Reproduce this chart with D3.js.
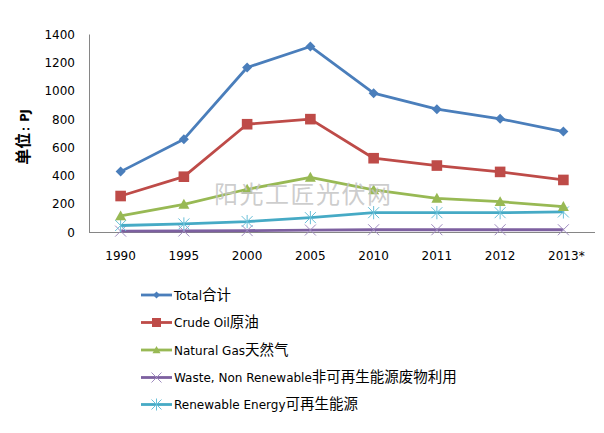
<!DOCTYPE html>
<html><head><meta charset="utf-8">
<script src="https://cdn.jsdelivr.net/npm/d3@7"></script>
<style>body{margin:0;background:#fff}svg{display:block}</style>
</head><body>
<script>
const years = ["1990","1995","2000","2005","2010","2011","2012","2013*"];
const total = [428, 658, 1166, 1315, 984, 871, 802, 712];
const crudeOil = [255, 392, 764, 800, 523, 471, 426, 369];
const naturalGas = [114, 196, 303, 388, 298, 239, 215, 180];
const waste = [6, 7, 10, 14, 16, 16, 16, 16];
const renewable = [46, 57, 74, 102, 137, 137, 137, 142];
const yTicks = [0, 200, 400, 600, 800, 1000, 1200, 1400];
const seriesNames = [["Total","合计"],["Crude Oil","原油"],["Natural Gas","天然气"],["Waste, Non Renewable","非可再生能源废物利用"],["Renewable Energy","可再生能源"]];
const seriesValues = [total, crudeOil, naturalGas, waste, renewable];
const colors = ["#4A7EBB","#BE4B48","#98B954","#7D60A0","#46AAC5"];
const markerColors = ["#4A7EBB","#BE4B48","#98B954","#A08CC0","#69BFD8"];
const shapes = ["diamond","square","triangle","x","star"];

const W=604,H=433;
const svg=d3.select("body").append("svg").attr("width",W).attr("height",H);
const x=d3.scalePoint().domain(years).range([89,595]).padding(0.5);
const y=d3.scaleLinear().domain([0,1400]).range([232,34.5]);
const font="'DejaVu Sans', Verdana, sans-serif";
const cjk="'Noto Sans CJK SC', sans-serif";

// axes
svg.append("line").attr("x1",89.5).attr("x2",89.5).attr("y1",y(1400)).attr("y2",y(0)).attr("stroke","#868686");
svg.append("line").attr("x1",89).attr("x2",595).attr("y1",y(0)+0.5).attr("y2",y(0)+0.5).attr("stroke","#868686");
svg.append("g").selectAll("text").data(yTicks).join("text")
  .attr("x",75).attr("y",d=>y(d)+4.5).attr("text-anchor","end")
  .attr("font-family",font).attr("font-size",12).attr("fill","#000").text(d=>d);
svg.append("g").selectAll("text").data(years).join("text")
  .attr("x",d=>x(d)+(d.endsWith("*")?3:0)).attr("y",260).attr("text-anchor","middle")
  .attr("font-family",font).attr("font-size",12).attr("fill","#000").text(d=>d);
const yl=svg.append("text").attr("transform","translate(29,137) rotate(-90)").attr("text-anchor","middle")
  .attr("font-weight","bold").attr("fill","#000");
yl.append("tspan").attr("font-family",cjk).attr("font-size",16).text("单位");
yl.append("tspan").attr("font-family",font).attr("font-size",12).attr("dx",-2).text("：");
yl.append("tspan").attr("font-family",font).attr("font-size",11.5).attr("dx",1).text("PJ");

function marker(g,shape,cx,cy,s,fill){
  if(shape==="diamond"){
    g.append("path").attr("d",`M${cx},${cy-s}L${cx+s},${cy}L${cx},${cy+s}L${cx-s},${cy}Z`).attr("fill",fill);
  } else if(shape==="square"){
    g.append("rect").attr("x",cx-s).attr("y",cy-s).attr("width",2*s).attr("height",2*s).attr("fill",fill);
  } else if(shape==="triangle"){
    g.append("path").attr("d",`M${cx},${cy-s}L${cx+s},${cy+s*0.8}L${cx-s},${cy+s*0.8}Z`).attr("fill",fill);
  } else if(shape==="x"){
    g.append("path").attr("d",`M${cx-s},${cy-s}L${cx+s},${cy+s}M${cx-s},${cy+s}L${cx+s},${cy-s}`).attr("stroke",fill).attr("stroke-width",1);
  } else {
    g.append("path").attr("d",`M${cx-s},${cy-s}L${cx+s},${cy+s}M${cx-s},${cy+s}L${cx+s},${cy-s}M${cx},${cy-s*1.2}L${cx},${cy+s*1.2}`).attr("stroke",fill).attr("stroke-width",1);
  }
}

const line=d3.line().x((d,i)=>x(years[i])).y(d=>y(d));
const order=[3,4,2,1,0];
order.forEach(k=>{
  const g=svg.append("g");
  g.append("path").attr("d",line(seriesValues[k])).attr("fill","none").attr("stroke",colors[k]).attr("stroke-width",2.8).attr("stroke-linejoin","round");
  const sz=[5,5.3,5.5,5.5,5.5][k];
  seriesValues[k].forEach((v,i)=>marker(g,shapes[k],x(years[i]),y(v),sz,markerColors[k]));
});

// watermark
svg.append("text").attr("x",214).attr("y",203).attr("font-family",cjk)
  .attr("font-size",24).attr("fill","#c4c4c4").attr("fill-opacity",0.85).attr("letter-spacing",1.5).text("阳光工匠光伏网");

// legend
const legY=[295,322.5,350,377.5,404.5];
seriesNames.forEach((n,k)=>{
  const g=svg.append("g");
  g.append("line").attr("x1",141).attr("x2",172).attr("y1",legY[k]).attr("y2",legY[k]).attr("stroke",colors[k]).attr("stroke-width",2.8);
  marker(g,shapes[k],156.5,legY[k],[3.5,4.5,4,5,5][k],markerColors[k]);
  const t=g.append("text").attr("x",174).attr("y",legY[k]+4.5).attr("font-family",font).attr("font-size",12).attr("fill","#000");
  t.append("tspan").text(n[0]);
  t.append("tspan").attr("font-family",cjk).attr("font-size",14.5).text(n[1]);
});
</script>
</body></html>
